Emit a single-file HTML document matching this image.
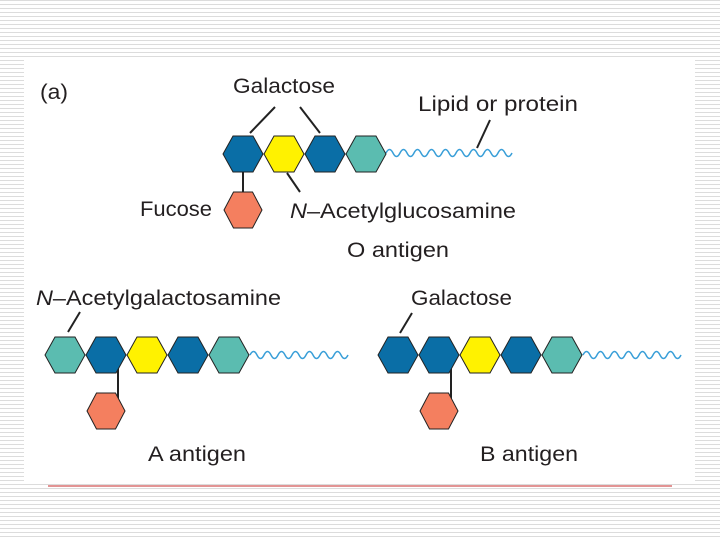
<!DOCTYPE html>
<html><head><style>
body{margin:0;width:720px;height:540px;overflow:hidden;background:repeating-linear-gradient(to bottom,#dcdcdc 0,#dcdcdc 1px,#fff 1px,#fff 4px);}
svg{position:absolute;left:0;top:0}
text{font-family:"Liberation Sans",sans-serif;font-size:21px;fill:#231f20}
</style></head><body>
<svg width="720" height="540">
<defs>
<polygon id="h" points="-20,0 -10,-18 10,-18 20,0 10,18 -10,18" stroke="#222" stroke-width="1"/>
<polygon id="hf" points="-19,0 -9.5,-18 9.5,-18 19,0 9.5,18 -9.5,18" stroke="#222" stroke-width="1"/>
</defs>
<rect x="24" y="57" width="671" height="424" fill="#fff"/>
<line x1="48" y1="486" x2="672" y2="486" stroke="#c62828" stroke-width="1"/>
<g stroke="#222" stroke-width="2" fill="none">
<line x1="250" y1="133" x2="275" y2="107"/><line x1="320" y1="133" x2="300" y2="107"/>
<line x1="477" y1="148" x2="490" y2="120"/><line x1="287" y1="173" x2="300" y2="192"/>
<line x1="68" y1="332" x2="80" y2="312"/><line x1="400" y1="333" x2="412" y2="313"/>
<line x1="243" y1="160" x2="243" y2="200"/><line x1="118" y1="360" x2="118" y2="400"/><line x1="451" y1="360" x2="451" y2="400"/>
</g>
<g fill="none" stroke="#3a9fd8" stroke-width="1.5">
<path d="M386,153 q3.5,-7 7,0 t7,0 t7,0 t7,0 t7,0 t7,0 t7,0 t7,0 t7,0 t7,0 t7,0 t7,0 t7,0 t7,0 t7,0 t7,0 t7,0 t7,0"/>
<path d="M250,355 q3.5,-7 7,0 t7,0 t7,0 t7,0 t7,0 t7,0 t7,0 t7,0 t7,0 t7,0 t7,0 t7,0 t7,0 t7,0"/>
<path d="M583,355 q3.5,-7 7,0 t7,0 t7,0 t7,0 t7,0 t7,0 t7,0 t7,0 t7,0 t7,0 t7,0 t7,0 t7,0 t7,0"/>
</g>
<use href="#h" x="243" y="154" fill="#0a6ea6"/>
<use href="#h" x="284" y="154" fill="#fff200"/>
<use href="#h" x="325" y="154" fill="#0a6ea6"/>
<use href="#h" x="366" y="154" fill="#5bbcb0"/>
<use href="#hf" x="243" y="210" fill="#f47f5f"/>
<use href="#h" x="65" y="355" fill="#5bbcb0"/>
<use href="#h" x="106" y="355" fill="#0a6ea6"/>
<use href="#h" x="147" y="355" fill="#fff200"/>
<use href="#h" x="188" y="355" fill="#0a6ea6"/>
<use href="#h" x="229" y="355" fill="#5bbcb0"/>
<use href="#hf" x="106" y="411" fill="#f47f5f"/>
<use href="#h" x="398" y="355" fill="#0a6ea6"/>
<use href="#h" x="439" y="355" fill="#0a6ea6"/>
<use href="#h" x="480" y="355" fill="#fff200"/>
<use href="#h" x="521" y="355" fill="#0a6ea6"/>
<use href="#h" x="562" y="355" fill="#5bbcb0"/>
<use href="#hf" x="439" y="411" fill="#f47f5f"/>
<text x="40" y="99" textLength="28" lengthAdjust="spacingAndGlyphs">(a)</text>
<text x="233" y="93" textLength="102" lengthAdjust="spacingAndGlyphs">Galactose</text>
<text x="418" y="111" textLength="160" lengthAdjust="spacingAndGlyphs">Lipid or protein</text>
<text x="140" y="216" textLength="72" lengthAdjust="spacingAndGlyphs">Fucose</text>
<text x="290" y="218" textLength="226" lengthAdjust="spacingAndGlyphs"><tspan font-style="italic">N</tspan>–Acetylglucosamine</text>
<text x="347" y="257" textLength="102" lengthAdjust="spacingAndGlyphs">O antigen</text>
<text x="36" y="305" textLength="245" lengthAdjust="spacingAndGlyphs"><tspan font-style="italic">N</tspan>–Acetylgalactosamine</text>
<text x="411" y="305" textLength="101" lengthAdjust="spacingAndGlyphs">Galactose</text>
<text x="148" y="461" textLength="98" lengthAdjust="spacingAndGlyphs">A antigen</text>
<text x="480" y="461" textLength="98" lengthAdjust="spacingAndGlyphs">B antigen</text>
</svg>
</body></html>
